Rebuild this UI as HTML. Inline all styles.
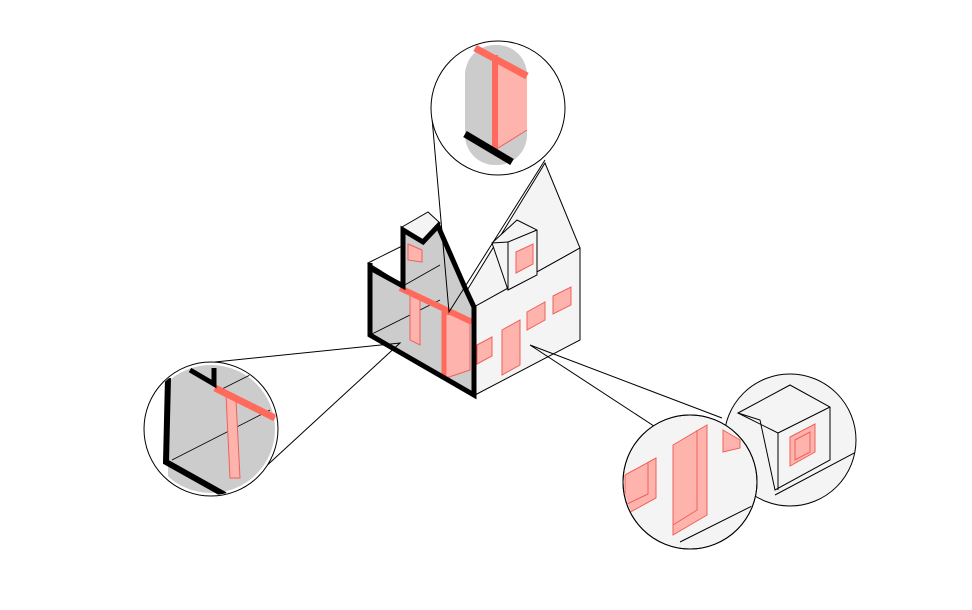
<!DOCTYPE html>
<html><head><meta charset="utf-8"><style>html,body{margin:0;padding:0;background:#fff}svg{display:block}</style></head>
<body>
<svg width="972" height="610" viewBox="0 0 972 610" xmlns="http://www.w3.org/2000/svg">
<defs>
<clipPath id="cTop"><circle cx="498" cy="108" r="66"/></clipPath>
<clipPath id="cLeft"><circle cx="211" cy="429" r="66"/></clipPath>
<clipPath id="cBR"><circle cx="690" cy="482" r="66"/></clipPath>
<clipPath id="cR"><circle cx="790" cy="440" r="66"/></clipPath>
</defs>
<g stroke="#000" stroke-width="1" fill="none">
<polygon points="545,163 580,248 474,307 466,292" fill="#f4f4f4"/>
<polygon points="474,307 580,248 580,340 475,395" fill="#f4f4f4"/>
<!-- dormer -->
<polygon points="492,243 517,220 537,230 537,275 508,290" fill="#f4f4f4"/>
<line x1="508" y1="242" x2="537" y2="230"/><line x1="508" y1="242" x2="508" y2="290"/><line x1="508" y1="242" x2="492" y2="243"/>
</g>
<g fill="#ffb3ad" stroke="#f0605a" stroke-width="1">
<polygon points="516,252 533,244 533,264 516,273"/>
<polygon points="502,330 520,320 520,365 502,375"/>
<polygon points="477,345 492,337 492,356 477,364"/>
<polygon points="527,312 545,302 545,320 527,330"/>
<polygon points="553,296 571,287 571,305 553,314"/>
</g>
<polygon points="368,263 402,246 402,284" fill="#fff" stroke="#000"/>
<polygon points="402,227 428,212 440,223 423,240" fill="#f4f4f4" stroke="#000"/>
<polygon points="370,268 403,286 403,230 423,242 438,226 466,292 474,307 474,395 370,335" fill="#ccc"/>
<line x1="370" y1="335" x2="440" y2="300" stroke="#000" stroke-width="0.8"/>
<line x1="403" y1="286" x2="440" y2="265" stroke="#000" stroke-width="0.8"/>
<polygon points="408,244 422,250 422,262 408,260" fill="#ffb3ad" stroke="#f0605a"/>
<polygon points="410,292 420,296 420,345 410,340" fill="#ffb3ad" stroke="#f0605a"/>
<polygon points="446,314 470,318 470,370 446,378" fill="#ffb3ad" stroke="#f0605a"/>
<line x1="400" y1="288" x2="472" y2="322" stroke="#ff6a5c" stroke-width="6"/>
<line x1="444" y1="310" x2="444" y2="378" stroke="#ff6a5c" stroke-width="5"/>
<polyline points="370,263 370,335 474,395 474,307 466,290 438,226 423,242 403,230 403,286 370,268" fill="none" stroke="#000" stroke-width="5" stroke-linejoin="miter"/>
<g stroke="#000" stroke-width="1" fill="none">
<polyline points="432,118 449,312 545,160"/>
<polyline points="215,362 400,343 262,470"/>
<polyline points="660,430 530,345 722,418"/>
</g>
<circle cx="498" cy="108" r="67" fill="#fff" stroke="#000"/>
<g clip-path="url(#cTop)">
<rect x="465" y="45" width="62" height="120" rx="30" fill="#ccc"/>
<polygon points="495,60 527,78 527,130 495,150" fill="#ffb3ad"/>
<line x1="475" y1="48" x2="527" y2="76" stroke="#ff6a5c" stroke-width="7"/>
<line x1="495" y1="55" x2="495" y2="150" stroke="#ff6a5c" stroke-width="6"/>
<line x1="495" y1="150" x2="527" y2="130" stroke="#f0605a"/>
<line x1="465" y1="134" x2="512" y2="162" stroke="#000" stroke-width="7"/>
</g>
<circle cx="211" cy="429" r="67" fill="#fff" stroke="#000"/>
<g clip-path="url(#cLeft)">
<circle cx="211" cy="429" r="64" fill="#ccc"/>
<rect x="140" y="360" width="28" height="140" fill="#fff"/>
<line x1="172" y1="460" x2="270" y2="410" stroke="#000" stroke-width="0.8"/>
<line x1="220" y1="390" x2="280" y2="360" stroke="#000" stroke-width="0.8"/>
<polygon points="226,395 236,400 240,478 230,478" fill="#ffb3ad" stroke="#f0605a"/>
<line x1="215" y1="388" x2="275" y2="418" stroke="#ff6a5c" stroke-width="7"/>
<polyline points="168,378 166,462 225,495" fill="none" stroke="#000" stroke-width="6"/>
<polyline points="190,370 214,384 214,368" fill="none" stroke="#000" stroke-width="5"/>
</g>
<circle cx="790" cy="440" r="66" fill="#f4f4f4" stroke="#000"/>
<g clip-path="url(#cR)" stroke="#000" fill="none">
<polygon points="738,413 790,385 830,407 830,460 775,490 760,420" fill="#f4f4f4"/>
<line x1="778" y1="433" x2="830" y2="407"/><line x1="778" y1="433" x2="738" y2="413"/><line x1="778" y1="433" x2="778" y2="490"/>
<line x1="775" y1="495" x2="860" y2="450"/>
<polygon points="790,437 815,424 815,452 790,466" fill="#ffb3ad" stroke="#f0605a"/>
<polygon points="795,440 810,432 810,452 795,460" fill="#ffb3ad" stroke="#f0605a"/>
</g>
<circle cx="690" cy="482" r="67" fill="#f4f4f4" stroke="#000"/>
<g clip-path="url(#cBR)">
<polygon points="673,445 707,425 707,515 673,535" fill="#ffb3ad" stroke="#f0605a"/>
<polyline points="697,430 697,510 673,525" fill="none" stroke="#f0605a"/>
<polygon points="625,475 656,458 656,498 625,515" fill="#ffb3ad" stroke="#f0605a"/>
<polyline points="648,462 648,494 625,505" fill="none" stroke="#f0605a"/>
<polygon points="723,430 740,440 740,448 723,452" fill="#ffb3ad" stroke="#f0605a"/>
<line x1="680" y1="542" x2="760" y2="502" stroke="#000"/>
</g>
<circle cx="690" cy="482" r="67" fill="none" stroke="#000"/>
</svg>
</body></html>
